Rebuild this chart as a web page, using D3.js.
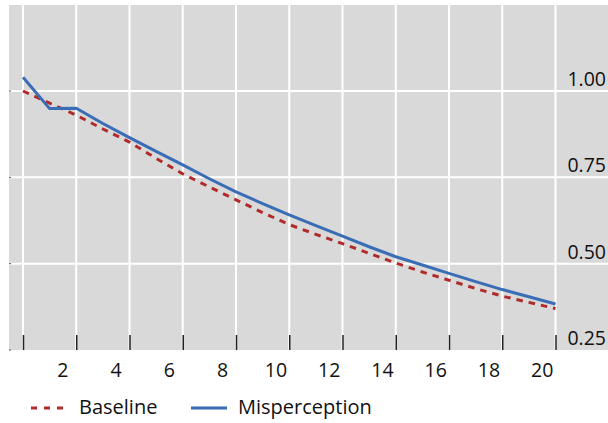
<!DOCTYPE html>
<html><head><meta charset="utf-8">
<script src="https://cdn.jsdelivr.net/npm/d3@7"></script>
<style>
html,body{margin:0;padding:0;background:#fff;}
svg{display:block;font-family:"Open Sans","Noto Sans",sans-serif;}
</style></head>
<body>
<svg id="chart" width="608" height="423"></svg>
<script>
// ---- data ----
const periods = [0,1,2,3,4,5,6,7,8,9,10,11,12,13,14,15,16,17,18,19,20];
const baseline = [1.000,0.965,0.930,0.890,0.852,0.805,0.760,0.722,0.685,0.648,0.613,0.585,0.558,0.530,0.502,0.476,0.452,0.428,0.406,0.388,0.370];
const misperception = [1.040,0.949,0.950,0.906,0.865,0.825,0.786,0.746,0.708,0.674,0.641,0.610,0.580,0.549,0.520,0.496,0.472,0.448,0.425,0.404,0.383];
const gridX = [0,2,4,6,8,10,12,14,16,18,20];
const xLabels = [2,4,6,8,10,12,14,16,18,20];
const yTicks = [0.25,0.50,0.75,1.00];
const seriesNames = ["Baseline","Misperception"];

const svg = d3.select("#chart");
const W = 608;
const plotLeft = 9, plotTop = 5, plotBottom = 350;
const x = d3.scaleLinear().domain([0,20]).range([23,555.5]);
const y = d3.scaleLinear().domain([0.25,1.0]).range([350,91]);

// background
svg.append("rect").attr("x",plotLeft).attr("y",plotTop)
  .attr("width",W-plotLeft).attr("height",plotBottom-plotTop).attr("fill","#d9d9d9");

// horizontal grid
svg.append("g").selectAll("line").data(yTicks.filter(d=>d>0.25)).join("line")
  .attr("x1",plotLeft).attr("x2",W).attr("y1",d=>y(d)).attr("y2",d=>y(d))
  .attr("stroke","#fff").attr("stroke-width",2);
// vertical grid
svg.append("g").selectAll("line").data(gridX).join("line")
  .attr("x1",d=>x(d)).attr("x2",d=>x(d)).attr("y1",plotTop).attr("y2",plotBottom)
  .attr("stroke","#fff").attr("stroke-width",2);

// bottom ticks via d3 axis
const xAxis = d3.axisBottom(x).tickValues(gridX).tickSize(15).tickFormat("");
const gx = svg.append("g").attr("transform",`translate(0,${plotBottom-15})`).call(xAxis);
gx.select(".domain").remove();
gx.selectAll(".tick line").attr("stroke","#222").attr("stroke-width",1.5);

// small left ticks
svg.append("g").selectAll("line").data(yTicks).join("line")
  .attr("x1",plotLeft).attr("x2",plotLeft+2).attr("y1",d=>y(d)).attr("y2",d=>y(d))
  .attr("stroke","#555").attr("stroke-width",1);

// x labels (between gridlines)
svg.append("g").selectAll("text").data(xLabels).join("text")
  .attr("x",d=>x(d-0.5)).attr("y",377)
  .attr("text-anchor","middle").attr("font-size",19.5).attr("fill","#111")
  .text(d=>d);

// y labels on right
svg.append("g").selectAll("text").data(yTicks).join("text")
  .attr("x",606).attr("y",d=>y(d)-5)
  .attr("text-anchor","end").attr("font-size",19.5).attr("fill","#111")
  .text(d=>d3.format(".2f")(d));

// lines
const line = d3.line().x((d,i)=>x(periods[i])).y(d=>y(d));
svg.append("path").datum(baseline).attr("d",line)
  .attr("fill","none").attr("stroke","#b12a2a").attr("stroke-width",3)
  .attr("stroke-dasharray","6.5,6");
svg.append("path").datum(misperception).attr("d",line)
  .attr("fill","none").attr("stroke","#3a6db5").attr("stroke-width",3)
  .attr("stroke-linejoin","round");

// legend
const legend = svg.append("g");
legend.append("line").attr("x1",31).attr("x2",68).attr("y1",408).attr("y2",408)
  .attr("stroke","#b12a2a").attr("stroke-width",3).attr("stroke-dasharray","6,7");
legend.append("text").attr("x",79).attr("y",414).attr("font-size",20).attr("fill","#111").text(seriesNames[0]);
legend.append("line").attr("x1",191).attr("x2",227).attr("y1",408).attr("y2",408)
  .attr("stroke","#3a6db5").attr("stroke-width",3);
legend.append("text").attr("x",238).attr("y",414).attr("font-size",20).attr("fill","#111").text(seriesNames[1]);
</script>
</body></html>
